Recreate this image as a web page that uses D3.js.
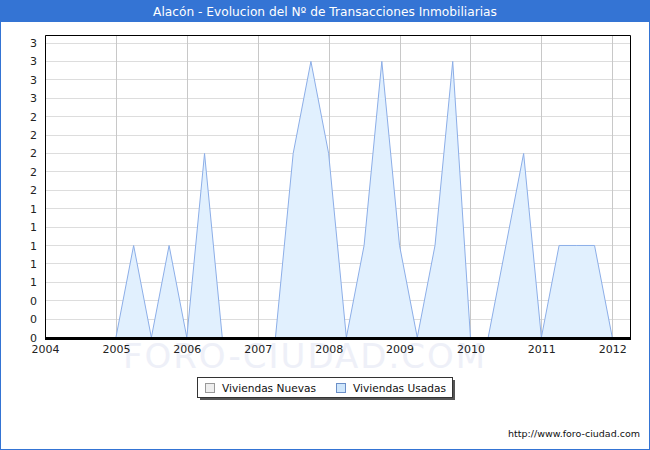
<!DOCTYPE html>
<html>
<head>
<meta charset="utf-8">
<script src="https://cdn.jsdelivr.net/npm/d3@7"></script>
<style>
  html, body { margin: 0; padding: 0; background: #fff; }
  svg { display: block; font-family: "DejaVu Sans", Verdana, sans-serif; }
</style>
</head>
<body>
<svg id="chart" width="650" height="450"></svg>
<script>
// ---- DATA ----
const titulo = "Alacón - Evolucion del Nº de Transacciones Inmobiliarias";
const periodos = [
  "2004 T1","2004 T2","2004 T3","2004 T4",
  "2005 T1","2005 T2","2005 T3","2005 T4",
  "2006 T1","2006 T2","2006 T3","2006 T4",
  "2007 T1","2007 T2","2007 T3","2007 T4",
  "2008 T1","2008 T2","2008 T3","2008 T4",
  "2009 T1","2009 T2","2009 T3","2009 T4",
  "2010 T1","2010 T2","2010 T3","2010 T4",
  "2011 T1","2011 T2","2011 T3","2011 T4",
  "2012 T1"
];
const viviendasUsadas = [
  0,0,0,0,
  0,1,0,1,
  0,2,0,0,
  0,0,2,3,
  2,0,1,3,
  1,0,1,3,
  0,0,1,2,
  0,1,1,1,
  0
];
const viviendasNuevas = [
  0,0,0,0, 0,0,0,0, 0,0,0,0, 0,0,0,0,
  0,0,0,0, 0,0,0,0, 0,0,0,0, 0,0,0,0, 0
];
const xTicks = [2004,2005,2006,2007,2008,2009,2010,2011,2012];
const yTicks = d3.range(0, 17).map(i => i * 0.2);
const seriesNames = ["Viviendas Nuevas", "Viviendas Usadas"];

// ---- LAYOUT ----
(function () {
const svg = d3.select("#chart");
const W = 650, H = 450;
const pL = 45, pR = 630, pT = 35, pB = 337.5;

const toYear = p => { const [yy, q] = p.split(" T"); return +yy + (+q - 1) / 4; };

const x = d3.scaleLinear().domain([2004, 2012.25]).range([pL, pR]);
const y = d3.scaleLinear().domain([0, 3.2]).range([pB, 43]);

svg.append("rect").attr("x", 0).attr("y", 0).attr("width", W).attr("height", H).attr("fill", "#fff");

// title bar
svg.append("rect").attr("x", 0).attr("y", 0).attr("width", W).attr("height", 22).attr("fill", "#3474d4");
svg.append("text").attr("x", W / 2).attr("y", 16).attr("text-anchor", "middle")
  .attr("fill", "#fff").attr("font-size", 12.2).text(titulo);

// watermark
svg.append("text").attr("x", 305).attr("y", 368).attr("text-anchor", "middle")
  .attr("fill", "#eef0f8").attr("font-size", 34).attr("letter-spacing", 2)
  .text("FORO-CIUDAD.COM");

// grid horizontal
svg.append("g").selectAll("line").data(yTicks).join("line")
  .attr("x1", pL).attr("x2", pR)
  .attr("y1", d => Math.floor(y(d)) + 0.5).attr("y2", d => Math.floor(y(d)) + 0.5)
  .attr("stroke", "#dddddd").attr("stroke-width", 1);

// grid vertical
svg.append("g").selectAll("line").data(xTicks).join("line")
  .attr("x1", d => Math.round(x(d)) + 0.5).attr("x2", d => Math.round(x(d)) + 0.5)
  .attr("y1", pT).attr("y2", pB)
  .attr("stroke", "#c8c8c8").attr("stroke-width", 1);

// areas
const ptsU = periodos.map((p, i) => ({ x: toYear(p), v: viviendasUsadas[i] }));
const ptsN = periodos.map((p, i) => ({ x: toYear(p), v: viviendasNuevas[i] }));
const area = d3.area().x(d => x(d.x)).y0(y(0)).y1(d => y(d.v));
const line = d3.line().x(d => x(d.x)).y(d => y(d.v));

svg.append("path").datum(ptsN).attr("d", area).attr("fill", "#eeeeee");
svg.append("path").datum(ptsN).attr("d", line).attr("fill", "none").attr("stroke", "#999").attr("stroke-width", 1);
svg.append("path").datum(ptsU).attr("d", area).attr("fill", "#e1f0fe");
svg.append("path").datum(ptsU).attr("d", line).attr("fill", "none").attr("stroke", "#8caee8").attr("stroke-width", 1);

// plot frame
svg.append("path")
  .attr("d", `M${pL + 0.5},${pB} V${pT + 0.5} H${pR + 0.5} V${pB}`)
  .attr("fill", "none").attr("stroke", "#000").attr("stroke-width", 1);
svg.append("line").attr("x1", pL).attr("x2", pR + 1).attr("y1", 338.5).attr("y2", 338.5)
  .attr("stroke", "#000").attr("stroke-width", 3);

// y axis labels
const yAxis = d3.axisLeft(y).tickValues(yTicks).tickFormat(d3.format(".0f")).tickSize(0).tickPadding(8);
const gy = svg.append("g").attr("transform", `translate(${pL},0)`).call(yAxis);
gy.select(".domain").remove();
gy.selectAll("text").attr("font-size", 11).attr("fill", "#222").attr("font-family", "DejaVu Sans, Verdana, sans-serif");

// x axis labels
const xAxis = d3.axisBottom(x).tickValues(xTicks).tickFormat(d3.format("d")).tickSize(0).tickPadding(8);
const gx = svg.append("g").attr("transform", `translate(0,${pB})`).call(xAxis);
gx.select(".domain").remove();
gx.selectAll("text").attr("font-size", 11).attr("fill", "#222").attr("font-family", "DejaVu Sans, Verdana, sans-serif");

// legend
const lg = svg.append("g");
lg.append("rect").attr("x", 200).attr("y", 380).attr("width", 255).attr("height", 20).attr("fill", "#555");
lg.append("rect").attr("x", 197.5).attr("y", 377.5).attr("width", 255).attr("height", 20).attr("fill", "#fff").attr("stroke", "#333");
const legColors = [["#eeeeee", "#999"], ["#cfe6fb", "#6b8fc8"]];
const legX = [205, 336];
seriesNames.forEach((n, i) => {
  lg.append("rect").attr("x", legX[i] + 0.5).attr("y", 383.5).attr("width", 9).attr("height", 9)
    .attr("fill", legColors[i][0]).attr("stroke", legColors[i][1]);
  lg.append("text").attr("x", legX[i] + 17).attr("y", 392).attr("font-size", 10.6).attr("fill", "#111").text(n);
});

// footer
svg.append("text").attr("x", 640).attr("y", 437).attr("text-anchor", "end")
  .attr("font-size", 9.5).attr("fill", "#111").text("http://www.foro-ciudad.com");

// outer border
svg.append("rect").attr("x", 0.5).attr("y", 0.5).attr("width", W - 1).attr("height", H - 1)
  .attr("fill", "none").attr("stroke", "#3474d4");
})();
</script>
</body>
</html>
